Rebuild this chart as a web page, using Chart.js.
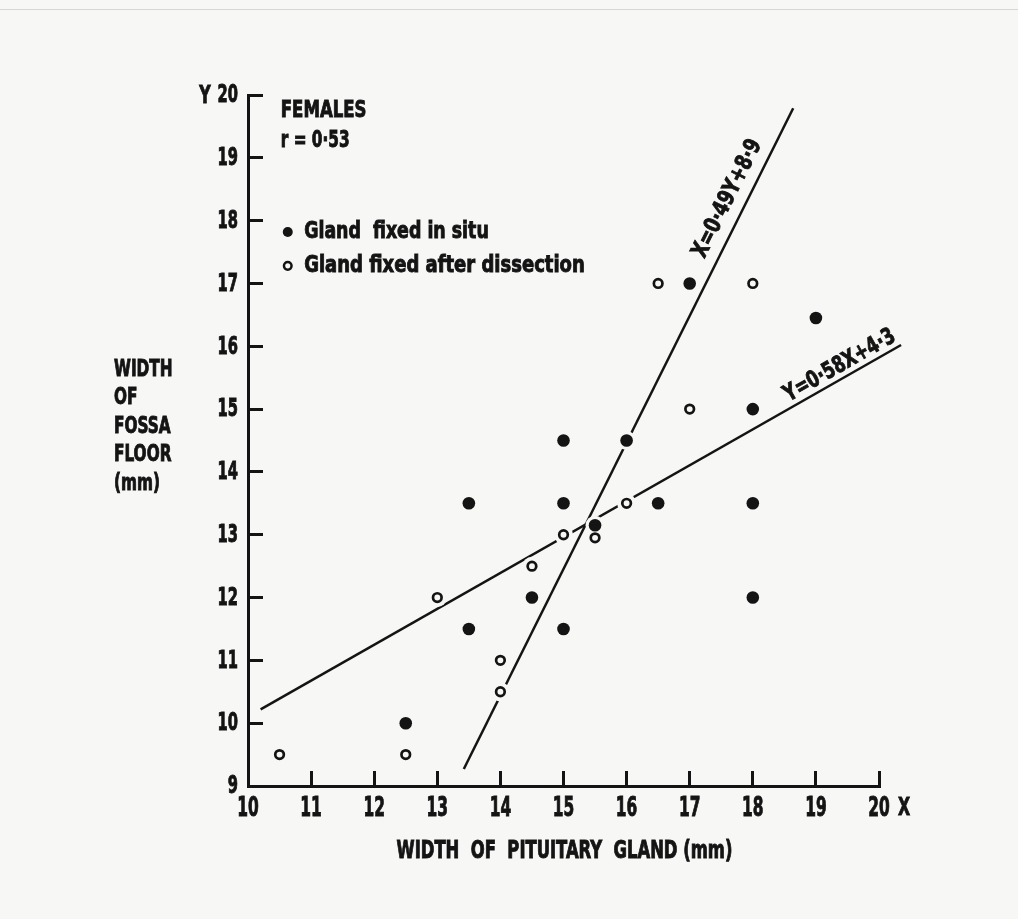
<!DOCTYPE html>
<html>
<head>
<meta charset="utf-8">
<script src="https://cdn.jsdelivr.net/npm/chart.js@4.4.0/dist/chart.umd.min.js"></script>
<style>
  html, body { margin: 0; padding: 0; background: #f7f7f5; }
  #wrap { position: relative; width: 1018px; height: 919px; }
  #edge { position: absolute; left: 0; top: 9px; width: 1018px; height: 0; border-top: 1px solid #d6d6d6; }
</style>
</head>
<body>
<div id="wrap"><div id="edge"></div><canvas id="scatterChart"></canvas></div>
<script>
// ── Data ─────────────────────────────────────────────────────────────────
var xTicks = [10, 11, 12, 13, 14, 15, 16, 17, 18, 19, 20];
var yTicks = [9, 10, 11, 12, 13, 14, 15, 16, 17, 18, 19, 20];

// gland fixed in situ (filled)
var inSituX = [12.5, 13.5, 13.5, 14.5, 15, 15, 15, 15.5, 16, 16.5, 17, 18, 18, 18, 19];
var inSituY = [10, 13.5, 11.5, 12, 14.5, 13.5, 11.5, 13.15, 14.5, 13.5, 17, 15, 13.5, 12, 16.45];

// gland fixed after dissection (open)
var afterX = [10.5, 12.5, 13, 14, 14, 14.5, 15, 15.5, 16, 16.5, 17, 18];
var afterY = [9.5, 9.5, 12, 11, 10.5, 12.5, 13, 12.95, 13.5, 17, 15, 17];

// regression lines, end points as drawn
var lineYonXx = [10.2, 20.35];
var lineYonXy = [10.22, 16.02];
var lineXonYx = [13.42, 18.64];
var lineXonYy = [9.27, 19.79];

var INK  = '#141414';
var BG   = '#f7f7f5';
var FONT = "'Liberation Sans Narrow', 'DejaVu Sans Condensed', sans-serif";

function pts(xs, ys) {
  return xs.map(function(x, i) { return { x: x, y: ys[i] }; });
}

// Text squeezed sideways: the figure's lettering is much narrower than any installed face
function narrowText(ctx, text, x, y, align, sx) {
  ctx.save();
  ctx.translate(x, y);
  ctx.scale(sx, 1);
  ctx.textAlign = align;
  ctx.lineWidth = 0.9;
  ctx.strokeStyle = INK;
  ctx.fillText(text, 0, 0);
  ctx.strokeText(text, 0, 0);
  ctx.restore();
}

// ── Tick labels, titles and notes ─────────────────────────────────────────
var annotations = {
  id: 'annotations',
  afterDraw: function(chart) {
    var ctx  = chart.ctx;
    var xs   = chart.scales.x;
    var ys   = chart.scales.y;
    var px   = function(v) { return xs.getPixelForValue(v); };
    var py   = function(v) { return ys.getPixelForValue(v); };
    var area = chart.chartArea;

    ctx.save();
    ctx.fillStyle = INK;
    ctx.textBaseline = 'middle';

    // tick labels from the scales' own ticks
    ctx.font = 'bold 24px ' + FONT;
    ys.ticks.forEach(function(t) {
      narrowText(ctx, String(t.value), area.left - 10, py(t.value) + 1, 'right', 0.68);
    });
    ctx.font = 'bold 26px ' + FONT;
    xs.ticks.forEach(function(t) {
      narrowText(ctx, String(t.value), px(t.value), area.bottom + 23, 'center', 0.66);
    });

    // axis letters
    ctx.font = 'bold 25px ' + FONT;
    narrowText(ctx, 'Y', area.left - 43, area.top + 1, 'center', 0.7);
    narrowText(ctx, 'X', area.right + 25, area.bottom + 22, 'center', 0.7);

    // heading
    ctx.font = 'bold 23px ' + FONT;
    narrowText(ctx, 'FEMALES', px(10.52), py(19.75), 'left', 0.8);
    narrowText(ctx, 'r = 0·53', px(10.52), py(19.26), 'left', 0.74);

    // legend
    narrowText(ctx, 'Gland  fixed in situ', px(10.89), py(17.82), 'left', 0.84);
    narrowText(ctx, 'Gland fixed after dissection', px(10.89), py(17.28), 'left', 0.87);
    ctx.beginPath();
    ctx.arc(px(10.63), py(17.82), 5, 0, Math.PI * 2);
    ctx.fill();
    ctx.beginPath();
    ctx.lineWidth = 2.5;
    ctx.strokeStyle = INK;
    ctx.arc(px(10.63), py(17.28), 3.8, 0, Math.PI * 2);
    ctx.stroke();

    // axis titles
    ctx.font = 'bold 24px ' + FONT;
    narrowText(ctx, 'WIDTH  OF  PITUITARY  GLAND (mm)', (area.left + area.right) / 2 + 1, area.bottom + 66, 'center', 0.76);
    ctx.font = 'bold 23px ' + FONT;
    ['WIDTH', 'OF', 'FOSSA', 'FLOOR', '(mm)'].forEach(function(s, i) {
      narrowText(ctx, s, 114, 370 + i * 28.5, 'left', 0.74);
    });

    // regression line labels, rotated along their lines
    function lineLabel(text, lx, ly, cx, cy, sx) {
      var a = Math.atan2(py(ly[1]) - py(ly[0]), px(lx[1]) - px(lx[0]));
      ctx.save();
      ctx.translate(px(cx), py(cy));
      ctx.rotate(a);
      narrowText(ctx, text, 0, 0, 'center', sx);
      ctx.restore();
    }
    ctx.font = 'bold 23px ' + FONT;
    lineLabel('X=0·49Y+8·9', lineXonYx, lineXonYy, 17.6, 18.35, 0.84);
    lineLabel('Y=0·58X+4·3', lineYonXx, lineYonXy, 19.38, 15.69, 0.81);

    ctx.restore();
  }
};

var lineStyle = {
  type: 'line',
  borderColor: INK,
  borderWidth: 2.5,
  pointRadius: 0,
  showLine: true,
  fill: false,
  clip: false,
  order: 3,
};

var ctx = document.getElementById('scatterChart');
new Chart(ctx, {
  type: 'scatter',
  data: {
    datasets: [
      Object.assign({ label: 'Y=0·58X+4·3', data: pts(lineYonXx, lineYonXy) }, lineStyle),
      Object.assign({ label: 'X=0·49Y+8·9', data: pts(lineXonYx, lineXonYy) }, lineStyle),
      // light halo so the fitted lines break around the marks
      {
        label: 'halo',
        data: pts(inSituX, inSituY).concat(pts(afterX, afterY)),
        pointRadius: 9.5,
        pointBackgroundColor: BG,
        pointBorderWidth: 0,
        clip: false,
        order: 2,
      },
      {
        label: 'Gland fixed in situ',
        data: pts(inSituX, inSituY),
        pointRadius: 6.3,
        pointBackgroundColor: INK,
        pointBorderWidth: 0,
        clip: false,
        order: 1,
      },
      {
        label: 'Gland fixed after dissection',
        data: pts(afterX, afterY),
        pointRadius: 4.3,
        pointBackgroundColor: BG,
        pointBorderColor: INK,
        pointBorderWidth: 2.7,
        clip: false,
        order: 1,
      },
    ]
  },
  options: {
    responsive: true,
    maintainAspectRatio: false,
    animation: false,
    layout: { padding: { left: 0, right: 139, top: 95, bottom: 0 } },
    plugins: {
      legend:  { display: false },
      tooltip: { enabled: false },
    },
    scales: {
      x: {
        type: 'linear',
        min: 10,
        max: 20,
        afterBuildTicks: function(s) { s.ticks = xTicks.map(function(v) { return { value: v }; }); },
        afterFit: function(s) { s.height = 133; },
        ticks: { display: false },
        grid: { drawOnChartArea: false, drawTicks: true, tickLength: -15, tickWidth: 3, tickColor: INK },
        border: { display: true, width: 3, color: INK },
      },
      y: {
        type: 'linear',
        min: 9,
        max: 20,
        afterBuildTicks: function(s) { s.ticks = yTicks.map(function(v) { return { value: v }; }); },
        afterFit: function(s) { s.width = 248; },
        ticks: { display: false },
        grid: { drawOnChartArea: false, drawTicks: true, tickLength: -15, tickWidth: 3, tickColor: INK },
        border: { display: true, width: 3, color: INK },
      }
    }
  },
  plugins: [annotations]
});
</script>
</body>
</html>
